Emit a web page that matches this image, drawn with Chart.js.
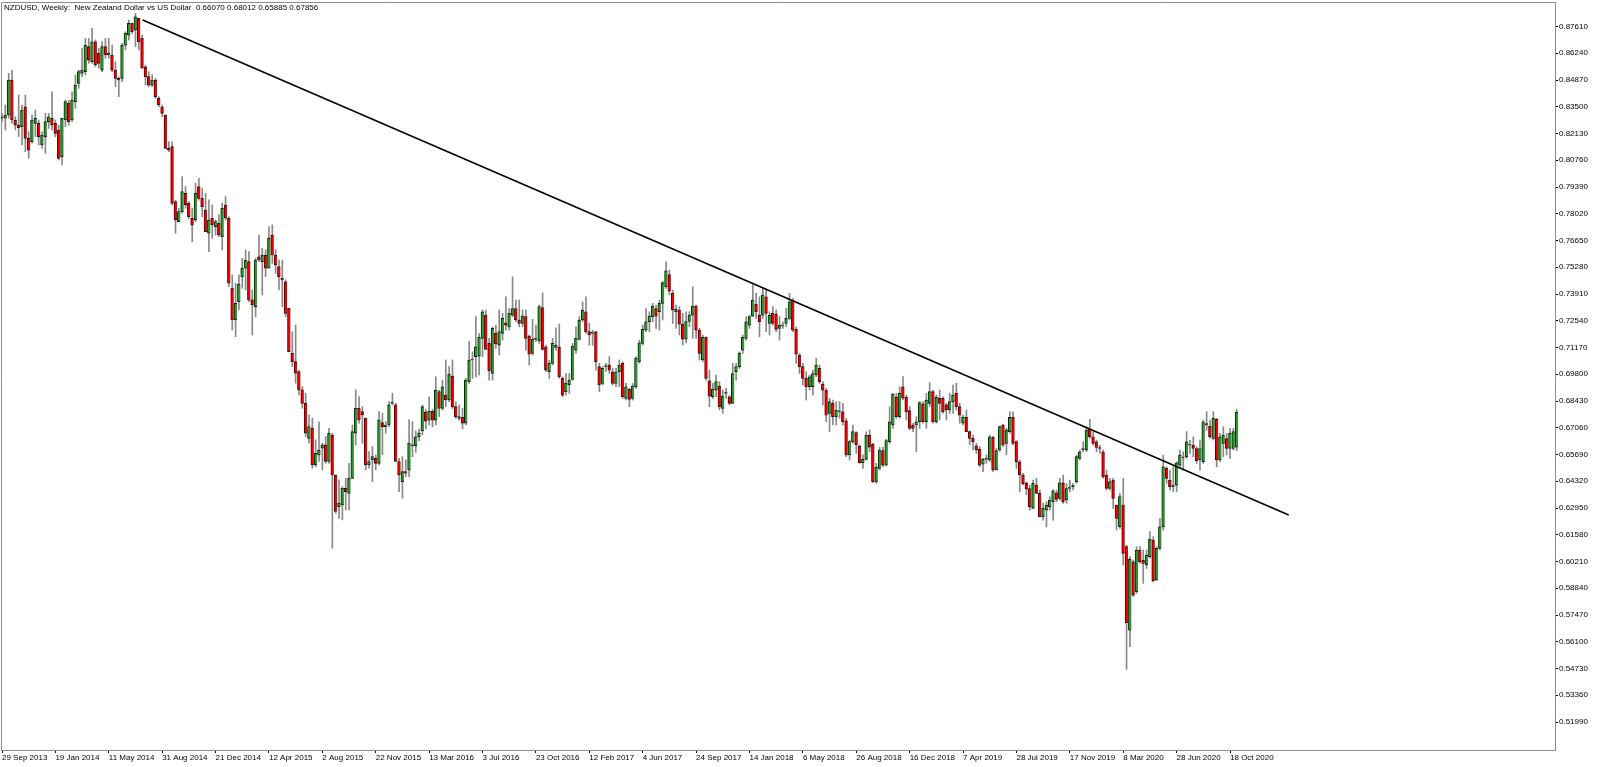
<!DOCTYPE html>
<html><head><meta charset="utf-8">
<script src="https://cdn.jsdelivr.net/npm/chart.js@4/dist/chart.umd.min.js"></script>
<style>
html,body{margin:0;padding:0;background:#fff;}
#wrap{position:relative;width:1600px;height:767px;overflow:hidden;}
#title{position:absolute;left:4px;top:3px;font:8px 'Liberation Sans',Arial,sans-serif;line-height:9px;color:#000;white-space:pre;}
#warn{position:absolute;left:600px;top:300px;color:red;font:20px sans-serif;}
</style></head><body>
<div id="wrap"><canvas id="c" width="1600" height="767"></canvas><div id="title">NZDUSD, Weekly:  New Zealand Dollar vs US Dollar  0.66070 0.68012 0.65885 0.67856</div><div id="warn"></div></div>
<script>
// Weekly candles, first week = 29 Sep 2013 (index 0), last = 1 Nov 2020 (index 370)
const open = [
.8299,.8291,.8308,.8487,.8282,.8256,.8248,.8350,.8188,.8171,
.8265,.8265,.8154,.8197,.8274,.8291,.8265,.8231,.8094,.8282,
.8367,.8282,.8376,.8470,.8521,.8530,.8658,.8581,.8683,.8623,
.8538,.8658,.8615,.8615,.8538,.8495,.8495,.8666,.8717,.8777,
.8743,.8803,.8700,.8555,.8504,.8461,.8487,.8393,.8350,.8308,
.8137,.8146,.7864,.7761,.7813,.7907,.7855,.7778,.7770,.7941,
.7881,.7821,.7702,.7779,.7736,.7753,.7685,.7847,.7779,.7420,
.7258,.7352,.7480,.7523,.7557,.7361,.7326,.7582,.7557,.7591,
.7523,.7693,.7591,.7531,.7471,.7454,.7318,.7087,.7045,.6994,
.6900,.6831,.6652,.6703,.6516,.6567,.6601,.6618,.6533,.6669,
.6464,.6302,.6311,.6396,.6370,.6447,.6678,.6806,.6789,.6755,
.6516,.6541,.6550,.6524,.6733,.6712,.6720,.6831,.6823,.6533,
.6430,.6481,.6490,.6618,.6613,.6660,.6690,.6788,.6745,.6790,
.6745,.6891,.6805,.6873,.6848,.6971,.6814,.6763,.6760,.6730,
.6942,.7053,.7070,.7073,.7164,.7283,.7138,.6984,.7189,.7129,
.7189,.7244,.7223,.7283,.7317,.7258,.7240,.7275,.7176,.7087,
.7159,.7152,.7322,.7121,.6993,.7036,.7118,.7121,.6959,.6891,
.6925,.6954,.7104,.7159,.7258,.7300,.7198,.7189,.7198,.7019,
.6933,.7019,.7027,.6993,.6933,.6993,.7036,.6856,.6903,.6856,
.6916,.7044,.7138,.7206,.7249,.7275,.7317,.7300,.7343,.7428,
.7491,.7394,.7300,.7309,.7237,.7160,.7250,.7283,.7329,.7206,
.7053,.7169,.6947,.6865,.6899,.6920,.6805,.6882,.6865,.6831,
.6993,.7019,.7104,.7164,.7232,.7278,.7338,.7283,.7283,.7377,
.7240,.7292,.7288,.7215,.7227,.7240,.7266,.7360,.7210,.7078,
.7019,.6959,.6916,.6916,.6976,.7010,.6930,.6899,.6780,.6831,
.6763,.6788,.6788,.6742,.6567,.6635,.6681,.6613,.6527,.6544,
.6669,.6623,.6430,.6498,.6589,.6515,.6635,.6720,.6865,.6763,
.6916,.6862,.6794,.6720,.6720,.6737,.6828,.6737,.6831,.6891,
.6737,.6857,.6857,.6823,.6797,.6840,.6882,.6814,.6729,.6759,
.6686,.6652,.6613,.6596,.6520,.6544,.6541,.6657,.6490,.6592,
.6720,.6626,.6686,.6759,.6635,.6532,.6464,.6421,.6395,.6293,
.6412,.6370,.6250,.6284,.6301,.6327,.6373,.6344,.6424,.6336,
.6395,.6404,.6430,.6549,.6592,.6592,.6698,.6660,.6634,.6605,
.6583,.6464,.6395,.6438,.6310,.6199,.6310,.6097,.5670,.6020,
.5866,.6080,.6028,.6003,.6046,.6131,.5926,.6088,.6199,.6498,
.6438,.6404,.6412,.6515,.6554,.6558,.6617,.6617,.6600,.6541,
.6532,.6728,.6715,.6651,.6749,.6541,.6626,.6651,.6600,.6600,
.66070];
const high = [
.8316,.8359,.8521,.8538,.8299,.8410,.8359,.8410,.8222,.8308,
.8333,.8282,.8222,.8316,.8316,.8427,.8282,.8256,.8291,.8384,
.8384,.8427,.8513,.8538,.8649,.8700,.8700,.8752,.8692,.8649,
.8683,.8700,.8700,.8666,.8581,.8504,.8675,.8734,.8794,.8777,
.8828,.8803,.8717,.8564,.8530,.8513,.8495,.8402,.8359,.8308,
.8171,.8171,.7872,.7830,.7992,.7941,.7864,.7830,.7958,.7983,
.7932,.7907,.7873,.7847,.7770,.7796,.7856,.7890,.7787,.7489,
.7446,.7489,.7574,.7617,.7608,.7412,.7574,.7693,.7625,.7617,
.7736,.7745,.7617,.7565,.7565,.7463,.7318,.7198,.7232,.7002,
.6917,.6883,.6772,.6755,.6644,.6737,.6627,.6661,.6703,.6678,
.6464,.6439,.6405,.6447,.6524,.6720,.6900,.6866,.6814,.6755,
.6584,.6610,.6567,.6789,.6780,.6737,.6840,.6883,.6831,.6550,
.6558,.6541,.6746,.6737,.6690,.6700,.6822,.6800,.6865,.6800,
.6967,.6899,.6950,.7053,.7019,.7053,.6839,.6822,.6805,.6959,
.7147,.7095,.7275,.7189,.7309,.7309,.7164,.7223,.7232,.7309,
.7292,.7377,.7317,.7479,.7360,.7360,.7309,.7309,.7181,.7261,
.7232,.7334,.7397,.7129,.7053,.7164,.7218,.7237,.6967,.6984,
.6984,.7138,.7223,.7275,.7351,.7377,.7240,.7206,.7198,.7036,
.7019,.7036,.7070,.7010,.7010,.7053,.7044,.6933,.6908,.6933,
.7070,.7155,.7232,.7317,.7300,.7343,.7334,.7360,.7454,.7556,
.7514,.7411,.7334,.7326,.7292,.7300,.7300,.7428,.7334,.7215,
.7181,.7172,.7001,.6933,.6976,.6942,.6899,.6908,.6873,.7036,
.7036,.7095,.7181,.7275,.7283,.7437,.7394,.7377,.7420,.7411,
.7300,.7326,.7309,.7275,.7249,.7317,.7394,.7368,.7223,.7087,
.7036,.6993,.6976,.7001,.7061,.7027,.6942,.6908,.6857,.6848,
.6840,.6840,.6831,.6754,.6643,.6720,.6686,.6618,.6567,.6686,
.6695,.6626,.6524,.6606,.6606,.6647,.6814,.6882,.6882,.6916,
.6968,.6874,.6814,.6729,.6763,.6840,.6840,.6882,.6937,.6899,
.6874,.6899,.6865,.6831,.6882,.6925,.6934,.6831,.6771,.6797,
.6691,.6669,.6626,.6609,.6549,.6567,.6669,.6664,.6601,.6715,
.6725,.6703,.6788,.6788,.6640,.6541,.6473,.6430,.6412,.6438,
.6447,.6387,.6319,.6327,.6353,.6390,.6387,.6447,.6464,.6421,
.6438,.6421,.6566,.6592,.6634,.6711,.6749,.6686,.6643,.6617,
.6592,.6489,.6447,.6447,.6310,.6370,.6447,.6105,.6046,.6028,
.6097,.6097,.6080,.6080,.6174,.6148,.6097,.6242,.6566,.6506,
.6489,.6506,.6532,.6592,.6583,.6686,.6643,.6660,.6609,.6643,
.6745,.6788,.6745,.6788,.6754,.6677,.6711,.6677,.6703,.6703,
.68012];
const low = [
.8274,.8231,.8291,.8265,.8231,.8197,.8154,.8120,.8086,.8163,
.8197,.8154,.8137,.8111,.8239,.8231,.8197,.8077,.8052,.8248,
.8256,.8274,.8342,.8444,.8504,.8513,.8572,.8572,.8555,.8547,
.8530,.8598,.8598,.8530,.8453,.8402,.8478,.8641,.8692,.8726,
.8658,.8641,.8547,.8461,.8453,.8453,.8393,.8350,.8299,.8137,
.8120,.7847,.7702,.7761,.7804,.7830,.7778,.7659,.7761,.7872,
.7787,.7710,.7608,.7676,.7693,.7685,.7617,.7770,.7429,.7207,
.7173,.7309,.7420,.7412,.7352,.7181,.7275,.7557,.7386,.7480,
.7523,.7548,.7497,.7412,.7326,.7275,.7096,.7019,.6934,.6874,
.6806,.6661,.6627,.6499,.6507,.6533,.6490,.6524,.6524,.6089,
.6268,.6242,.6234,.6285,.6285,.6447,.6618,.6729,.6627,.6490,
.6499,.6430,.6490,.6516,.6567,.6678,.6712,.6823,.6533,.6379,
.6345,.6456,.6456,.6558,.6580,.6640,.6670,.6700,.6720,.6710,
.6720,.6763,.6797,.6814,.6839,.6805,.6754,.6745,.6700,.6720,
.6933,.6959,.6967,.6976,.7070,.7107,.6950,.6950,.7112,.7078,
.7155,.7206,.7206,.7275,.7249,.7223,.7223,.7104,.7027,.7078,
.7147,.7138,.7104,.6993,.6959,.7027,.7104,.6959,.6865,.6873,
.6882,.6950,.7087,.7155,.7249,.7189,.7129,.7129,.7001,.6891,
.6925,.6993,.6984,.6925,.6916,.6916,.6856,.6848,.6814,.6848,
.6908,.7036,.7129,.7198,.7198,.7249,.7215,.7206,.7258,.7420,
.7386,.7240,.7215,.7181,.7129,.7140,.7223,.7164,.7164,.7053,
.7044,.6950,.6814,.6856,.6865,.6797,.6780,.6856,.6822,.6831,
.6950,.7010,.7087,.7155,.7215,.7275,.7266,.7172,.7266,.7198,
.7181,.7232,.7198,.7155,.7215,.7223,.7258,.7198,.7036,.6984,
.6925,.6848,.6899,.6873,.6967,.6933,.6822,.6737,.6686,.6720,
.6720,.6754,.6720,.6558,.6541,.6626,.6575,.6524,.6498,.6541,
.6584,.6425,.6421,.6490,.6507,.6510,.6626,.6703,.6754,.6754,
.6848,.6746,.6695,.6686,.6584,.6703,.6729,.6703,.6814,.6729,
.6729,.6746,.6780,.6746,.6780,.6780,.6797,.6729,.6720,.6686,
.6618,.6592,.6575,.6507,.6481,.6524,.6532,.6481,.6490,.6584,
.6609,.6567,.6678,.6618,.6498,.6379,.6413,.6362,.6284,.6293,
.6370,.6250,.6233,.6199,.6284,.6233,.6327,.6336,.6319,.6319,
.6378,.6387,.6421,.6541,.6583,.6583,.6651,.6617,.6583,.6575,
.6447,.6387,.6387,.6293,.6182,.6191,.6003,.5469,.5585,.5841,
.5858,.6011,.5909,.5986,.6037,.5917,.5926,.6080,.6182,.6421,
.6387,.6378,.6378,.6506,.6489,.6549,.6575,.6558,.6523,.6489,
.6523,.6694,.6651,.6643,.6506,.6532,.6558,.6566,.6549,.6592,
.65885];
const close = [
.8291,.8308,.8487,.8282,.8256,.8243,.8333,.8188,.8128,.8282,
.8291,.8197,.8205,.8274,.8299,.8256,.8214,.8086,.8291,.8376,
.8274,.8384,.8461,.8530,.8538,.8666,.8589,.8683,.8564,.8572,
.8658,.8615,.8623,.8538,.8495,.8487,.8666,.8726,.8777,.8734,
.8811,.8683,.8547,.8504,.8461,.8487,.8402,.8359,.8316,.8137,
.8128,.7855,.7770,.7813,.7915,.7847,.7787,.7744,.7907,.7881,
.7838,.7710,.7770,.7745,.7762,.7693,.7830,.7779,.7446,.7258,
.7343,.7442,.7523,.7565,.7361,.7335,.7565,.7565,.7591,.7523,
.7676,.7591,.7540,.7480,.7463,.7292,.7096,.7045,.6985,.6900,
.6831,.6678,.6712,.6516,.6575,.6592,.6618,.6533,.6678,.6464,
.6277,.6319,.6396,.6379,.6447,.6686,.6806,.6746,.6772,.6516,
.6533,.6558,.6524,.6746,.6712,.6720,.6823,.6836,.6533,.6464,
.6481,.6473,.6627,.6613,.6660,.6680,.6814,.6740,.6790,.6745,
.6899,.6805,.6916,.6848,.6981,.6814,.6763,.6754,.6730,.6950,
.7053,.7058,.7121,.7169,.7300,.7107,.6998,.7215,.7135,.7198,
.7266,.7232,.7292,.7317,.7258,.7240,.7278,.7164,.7083,.7159,
.7162,.7326,.7107,.7001,.7036,.7138,.7129,.6967,.6873,.6933,
.6950,.7124,.7164,.7258,.7309,.7198,.7181,.7192,.7044,.6925,
.7010,.7022,.7001,.6933,.6993,.7027,.6865,.6916,.6851,.6920,
.7061,.7141,.7210,.7249,.7278,.7329,.7278,.7343,.7450,.7510,
.7406,.7309,.7312,.7237,.7160,.7250,.7283,.7329,.7206,.7087,
.7169,.6959,.6868,.6903,.6942,.6814,.6868,.6885,.6831,.6984,
.7019,.7087,.7169,.7249,.7275,.7360,.7300,.7249,.7386,.7292,
.7283,.7240,.7210,.7232,.7230,.7266,.7351,.7206,.7083,.7019,
.6959,.6916,.6967,.6984,.7027,.6942,.6899,.6771,.6840,.6763,
.6797,.6790,.6737,.6567,.6635,.6686,.6618,.6527,.6544,.6669,
.6606,.6430,.6503,.6592,.6515,.6640,.6737,.6879,.6763,.6882,
.6857,.6788,.6703,.6703,.6737,.6835,.6737,.6848,.6891,.6737,
.6862,.6831,.6788,.6797,.6840,.6874,.6814,.6771,.6759,.6686,
.6652,.6635,.6592,.6515,.6544,.6549,.6660,.6490,.6589,.6712,
.6618,.6695,.6759,.6626,.6532,.6464,.6418,.6391,.6301,.6421,
.6370,.6250,.6293,.6310,.6336,.6383,.6339,.6424,.6327,.6395,
.6401,.6412,.6558,.6583,.6600,.6694,.6660,.6626,.6605,.6600,
.6455,.6395,.6430,.6344,.6242,.6353,.6063,.5708,.6032,.5849,
.6080,.6020,.6011,.6054,.6134,.5923,.6088,.6199,.6506,.6447,
.6404,.6412,.6527,.6566,.6551,.6634,.6622,.6600,.6537,.6600,
.6737,.6720,.6660,.6754,.6541,.6660,.6669,.6600,.6677,.6686,
.67856];

// x-axis tick labels, one every 16 weekly bars starting at bar 0
const xTickLabels = ['29 Sep 2013','19 Jan 2014','11 May 2014','31 Aug 2014','21 Dec 2014','12 Apr 2015','2 Aug 2015','22 Nov 2015','13 Mar 2016','3 Jul 2016','23 Oct 2016','12 Feb 2017','4 Jun 2017','24 Sep 2017','14 Jan 2018','6 May 2018','26 Aug 2018','16 Dec 2018','7 Apr 2019','28 Jul 2019','17 Nov 2019','8 Mar 2020','28 Jun 2020','18 Oct 2020'];
const xTickBars = [0,16,32,48,64,80,96,112,128,144,160,176,192,208,224,240,256,272,288,304,320,336,352,368];
// y-axis price ticks
const yTickValues = [0.51990,0.53360,0.54730,0.56100,0.57470,0.58840,0.60210,0.61580,0.62950,0.64320,0.65690,0.67060,0.68430,0.69800,0.71170,0.72540,0.73910,0.75280,0.76650,0.78020,0.79390,0.80760,0.82130,0.83500,0.84870,0.86240,0.87610];
// trend line end points (bar index, price)
const trendBars = [42.17, 385.6];
const trendPrices = [0.87943, 0.62597];

const lens=[open.length,high.length,low.length,close.length];
if (lens.some(l=>l!==371)) document.getElementById('warn').textContent='LEN '+lens.join(',');

const BULL='#2e962e', BEAR='#f00000', FONT="'Liberation Sans', Arial, sans-serif";
const wickData = high.map((h,i)=>({x:i, y:[low[i], h]}));
const bodyData = open.map((o,i)=>({x:i, y:[Math.min(o,close[i]), Math.max(o,close[i])]}));
const bodyColors = open.map((o,i)=> close[i]>=o ? BULL : BEAR);
const trendData = trendBars.map((b,k)=>({x:b, y:trendPrices[k]}));

const frame = {id:'frame', beforeDatasetsDraw(chart){
  const {ctx, chartArea:a} = chart;
  ctx.save(); ctx.strokeStyle='#8c8c8c'; ctx.lineWidth=1;
  ctx.beginPath(); ctx.moveTo(a.left+0.5, a.bottom); ctx.lineTo(a.left+0.5, a.top+0.5); ctx.lineTo(a.right, a.top+0.5); ctx.stroke();
  ctx.restore();
}};

new Chart(document.getElementById('c'), {
  type:'bar',
  data:{ datasets:[
    {type:'line', data:trendData, borderColor:'#000', borderWidth:1.6, pointRadius:0, order:0, clip:false},
    {data:bodyData, backgroundColor:bodyColors, borderColor:'#1a1a1a', borderWidth:{left:1,right:0,top:1,bottom:1}, borderSkipped:false, barThickness:3, minBarLength:1, grouped:false, order:1},
    {data:wickData, backgroundColor:'#888', borderWidth:0, barThickness:1, grouped:false, order:2}
  ]},
  options:{
    animation:false, responsive:false, devicePixelRatio:1, events:[],
    layout:{padding:{left:1, top:2, right:0, bottom:0}},
    plugins:{legend:{display:false}, tooltip:{enabled:false}, title:{display:false}},
    scales:{
      x:{type:'linear', min:-0.2997, max:465.39, offset:false,
        afterBuildTicks:s=>{ s.ticks = xTickBars.map(v=>({value:v})); },
        afterFit:s=>{ s.height=17; s.paddingLeft=0; s.paddingRight=0; },
        ticks:{autoSkip:false, maxRotation:0, minRotation:0, align:'start', padding:0, color:'#000', font:{size:8, family:FONT},
          callback:(v,idx)=>xTickLabels[idx]},
        grid:{offset:false, drawOnChartArea:false, drawTicks:true, tickLength:3, color:'#000'},
        border:{display:true, color:'#8c8c8c'}
      },
      y:{type:'linear', position:'right', min:0.50557, max:0.88865,
        afterBuildTicks:s=>{ s.ticks = yTickValues.map(v=>({value:v})); },
        afterFit:s=>{ s.width=45; s.paddingTop=0; s.paddingBottom=0; },
        ticks:{autoSkip:false, padding:1, color:'#000', font:{size:8, family:FONT}, callback:v=>Number(v).toFixed(5)},
        grid:{drawOnChartArea:false, drawTicks:true, tickLength:3, color:'#000'},
        border:{display:true, color:'#8c8c8c'}
      }
    }
  },
  plugins:[frame]
});
</script>
</body></html>
